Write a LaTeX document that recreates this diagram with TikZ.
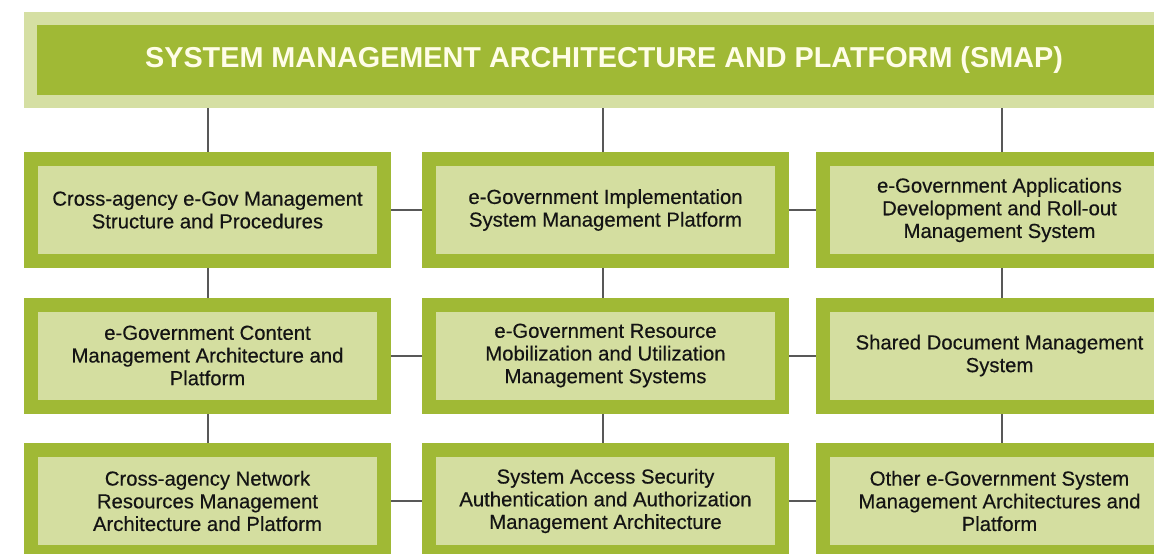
\documentclass[tikz,border=0pt]{standalone}
\usepackage{fontspec}
\setmainfont{Liberation Sans}
\newfontfamily\boxfont{Liberation Sans}[FakeBold=0.35]
\usetikzlibrary{backgrounds}
\definecolor{dgreen}{HTML}{A0B935}
\definecolor{lgreen}{HTML}{D4DEA0}
\definecolor{tgreen}{HTML}{D5DFA3}
\definecolor{conn}{HTML}{585858}
\definecolor{ttext}{HTML}{FFFDE8}
\tikzset{
  box/.style={draw=dgreen, fill=lgreen, line width=14pt, minimum width=353pt, minimum height=102pt,
    align=center, text=black!92, inner sep=0pt,
    font=\boxfont\fontsize{20.3}{22.7}\selectfont,
    execute at begin node={\rule{0pt}{26pt}}},
  titlebox/.style={draw=tgreen, fill=dgreen, line width=13pt, minimum width=1147pt, minimum height=83pt,
    inner sep=0pt, text=ttext, font=\fontsize{28.8}{30}\selectfont\bfseries},
  link/.style={draw=conn, line width=2pt}
}
\begin{document}
\begin{tikzpicture}[x=1pt,y=-1pt]
\useasboundingbox (0,0) rectangle (1154,554);
\clip (0,0) rectangle (1154,554);
\node[titlebox] (title) at (604,60) {SYSTEM MANAGEMENT ARCHITECTURE AND PLATFORM (SMAP)};
% row 1
\node[box] (a1) at (207.5,210) {Cross-agency e-Gov Management\\Structure and Procedures};
\node[box] (a2) at (605.5,210) {e-Government Implementation\\System Management Platform};
\node[box] (a3) at (999.5,210) {e-Government Applications\\Development and Roll-out\\Management System};
% row 2
\node[box] (b1) at (207.5,355.5) {e-Government Content\\Management Architecture and\\Platform};
\node[box] (b2) at (605.5,355.5) {e-Government Resource\\Mobilization and Utilization\\Management Systems};
\node[box] (b3) at (999.5,355.5) {Shared Document Management\\System};
% row 3
\node[box] (c1) at (207.5,501) {Cross-agency Network\\Resources Management\\Architecture and Platform};
\node[box] (c2) at (605.5,501) {System Access Security\\Authentication and Authorization\\Management Architecture};
\node[box] (c3) at (999.5,501) {Other e-Government System\\Management Architectures and\\Platform};
\begin{pgfonlayer}{background}
\fill[white] (0,0) rectangle (1154,554);
\draw[link] ([xshift=0.5pt]a1.north) -- ([xshift=0.5pt]a1.north |- title.south);
\draw[link] ([xshift=-2.5pt]a2.north) -- ([xshift=-2.5pt]a2.north |- title.south);
\draw[link] ([xshift=2.5pt]a3.north) -- ([xshift=2.5pt]a3.north |- title.south);
\draw[link] ([xshift=0.5pt]a1.south) -- ([xshift=0.5pt]b1.north);
\draw[link] ([xshift=-2.5pt]a2.south) -- ([xshift=-2.5pt]b2.north);
\draw[link] ([xshift=2.5pt]a3.south) -- ([xshift=2.5pt]b3.north);
\draw[link] ([xshift=0.5pt]b1.south) -- ([xshift=0.5pt]c1.north);
\draw[link] ([xshift=-2.5pt]b2.south) -- ([xshift=-2.5pt]c2.north);
\draw[link] ([xshift=2.5pt]b3.south) -- ([xshift=2.5pt]c3.north);
\draw[link] (a1.east) -- (a2.west);
\draw[link] (a2.east) -- (a3.west);
\draw[link] (b1.east) -- (b2.west);
\draw[link] (b2.east) -- (b3.west);
\draw[link] (c1.east) -- (c2.west);
\draw[link] (c2.east) -- (c3.west);
\end{pgfonlayer}
\end{tikzpicture}
\end{document}
